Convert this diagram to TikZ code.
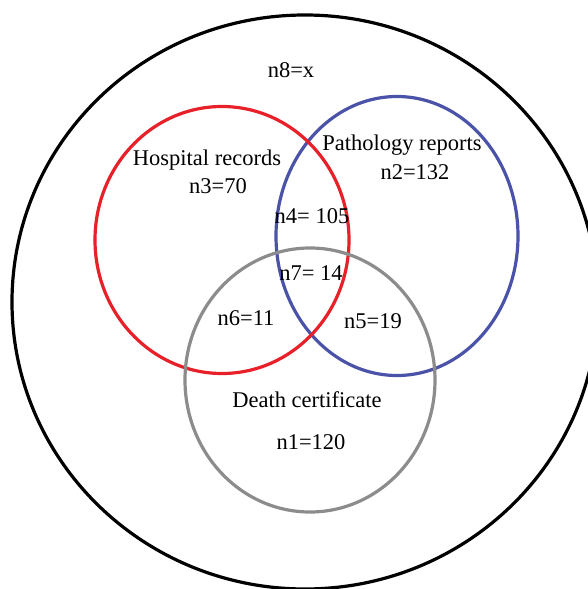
\documentclass[tikz,border=0pt]{standalone}
\usepackage{fontspec}
\setmainfont{Liberation Serif}
\definecolor{vred}{HTML}{E8202A}
\definecolor{vblue}{HTML}{4A53A8}
\definecolor{vgray}{HTML}{8C8C8C}
\begin{document}
\begin{tikzpicture}[x=1pt,y=-1pt,
  ring/.style={line width=3.2pt},
  lbl/.style={inner sep=0pt,font=\fontsize{22.5}{25}\selectfont}]
\useasboundingbox (0,0) rectangle (588,589);
\clip (0,0) rectangle (588,589);
\fill[white] (0,0) rectangle (588,589);
% outer universe
\draw[ring,black] (305,302) ellipse [x radius=293, y radius=287];
% sets
\draw[ring,vblue] (397,236) ellipse [x radius=121, y radius=139.5];
\draw[ring,vred] (222,240) ellipse [x radius=127, y radius=133.5];
\draw[ring,vgray] (310,380) ellipse [x radius=125, y radius=132];
% labels
\node[lbl] (n8) at (291,70) {n8=x};
\node[lbl] (hosp) at (207,160) {Hospital records};
\node[lbl] (n3) at (218,186) {n3=70};
\node[lbl] (path) at (402,145) {Pathology reports};
\node[lbl] (n2) at (415,172) {n2=132};
\node[lbl] (n4) at (312,216) {n4= 105};
\node[lbl] (n7) at (311,273) {n7= 14};
\node[lbl] (n6) at (246,318) {n6=11};
\node[lbl] (n5) at (373,321) {n5=19};
\node[lbl] (death) at (307,400) {Death certificate};
\node[lbl] (n1) at (311,442) {n1=120};
\end{tikzpicture}
\end{document}
